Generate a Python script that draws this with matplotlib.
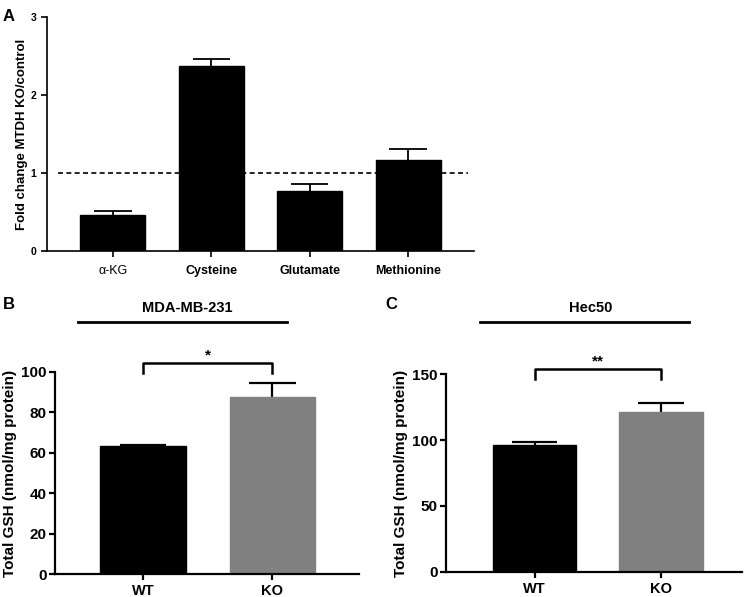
import matplotlib
matplotlib.use("Agg")
import matplotlib.pyplot as plt

plt.rcParams['font.family'] = ['Liberation Sans', 'DejaVu Sans']
plt.rcParams['font.weight'] = 'bold'

# panel A data
metabolites = ["α-KG", "Cysteine", "Glutamate", "Methionine"]
fold_change = [0.46, 2.37, 0.77, 1.17]
fold_err = [0.05, 0.09, 0.09, 0.14]

# panel B / C data
groups = ["WT", "KO"]
mda_gsh = [63.2, 87.6]
mda_err = [0.7, 6.9]
hec_gsh = [96.0, 121.0]
hec_err = [2.6, 7.2]
bar_colors = ["black", "#808080"]

fig = plt.figure(figsize=(7.47, 5.97), dpi=100)


def style_axes(ax, lw=1.4):
    for side in ("top", "right"):
        ax.spines[side].set_visible(False)
    for side in ("left", "bottom"):
        ax.spines[side].set_linewidth(lw)
    ax.tick_params(width=lw, length=4, direction="out")


def upper_err(ax, x, vals, errs, cap, lw):
    # prism style: only the upper whisker
    tops = [v + e for v, e in zip(vals, errs)]
    ax.vlines(x, vals, tops, color="black", lw=lw, zorder=1)
    ax.hlines(tops, [i - cap for i in x], [i + cap for i in x], color="black", lw=lw, zorder=1)


# ---- A ----
axA = fig.add_axes([0.0629, 0.5796, 0.5716, 0.3920])
xa = list(range(len(metabolites)))
axA.bar(xa, fold_change, width=0.66, color="black", edgecolor="black", zorder=2)
upper_err(axA, xa, fold_change, fold_err, 0.19, 1.3)
axA.plot([-0.56, 3.61], [1, 1], ls=(0, (3, 2)), color="black", lw=1.2, zorder=3)
axA.set_xlim(-0.67, 3.67)
axA.set_ylim(0, 3)
axA.set_yticks([0, 1, 2, 3])
axA.set_xticks(xa)
axA.set_xticklabels(metabolites, fontsize=9, fontweight="bold")
axA.tick_params(axis="y", labelsize=7.5)
axA.tick_params(axis="x", pad=6)
axA.set_ylabel("Fold change MTDH KO/control", fontsize=9.5, fontweight="bold", labelpad=2)
style_axes(axA, 1.2)
axA.get_xticklabels()[0].set_fontweight("normal")
fig.text(0.004, 0.985, "A", fontsize=12, fontweight="bold", va="top")


def gsh_panel(rect, vals, errs, ymax, yticks, stars, br_y, br_leg, title, letter, letter_x,
              title_x, line_x0, line_x1, xlim):
    ax = fig.add_axes(rect)
    x = list(range(len(groups)))
    ax.bar(x, vals, width=0.66, color=bar_colors, edgecolor=bar_colors, zorder=2)
    upper_err(ax, x, vals, errs, 0.18, 1.6)
    ax.set_xlim(*xlim)
    ax.set_ylim(0, ymax)
    ax.set_yticks(yticks)
    ax.set_xticks(x)
    ax.set_xticklabels(groups, fontsize=10.5, fontweight="bold")
    ax.tick_params(axis="y", labelsize=11, pad=2)
    ax.set_ylabel("Total GSH (nmol/mg protein)", fontsize=11, fontweight="bold", labelpad=3)
    style_axes(ax, 1.6)
    ax.plot([0, 0, 1, 1], [br_leg, br_y, br_y, br_leg], color="black", lw=1.8, clip_on=False)
    ax.text(0.5, br_y, stars, ha="center", va="bottom", fontsize=11, fontweight="bold")
    fig.text(letter_x, 0.49, letter, fontsize=12, fontweight="bold", va="center")
    fig.text(title_x, 0.484, title, fontsize=10.5, fontweight="bold", ha="center", va="center")
    fig.add_artist(plt.Line2D([line_x0, line_x1], [0.461, 0.461], color="black", lw=2))
    return ax


gsh_panel([0.0735, 0.0385, 0.4071, 0.3384], mda_gsh, mda_err, 100, [0, 20, 40, 60, 80, 100],
          "*", 104.5, 99.5, "MDA-MB-231", "B", 0.004, 0.251, 0.104, 0.384, (-0.68, 1.67))
gsh_panel([0.5971, 0.0419, 0.3962, 0.3316], hec_gsh, hec_err, 150, [0, 50, 100, 150],
          "**", 154, 146, "Hec50", "C", 0.516, 0.791, 0.643, 0.922, (-0.70, 1.64))

fig.savefig("out.png", dpi=100)
